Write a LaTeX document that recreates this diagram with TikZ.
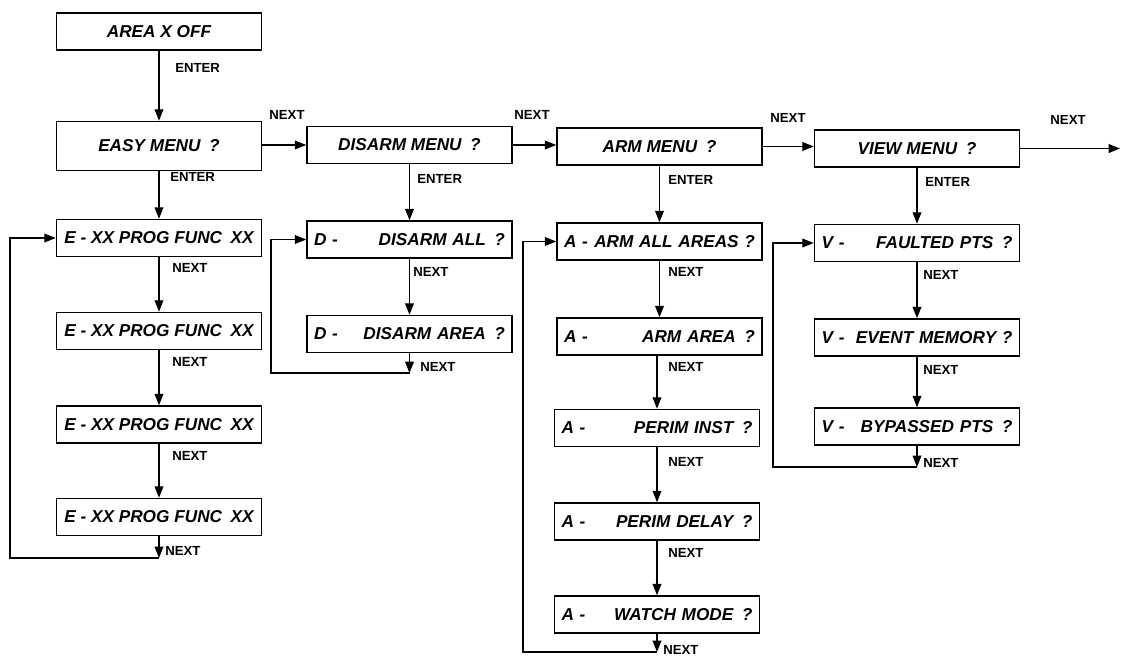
\documentclass[tikz,border=0pt]{standalone}
\usepackage{fontspec}
\setmainfont{Liberation Sans}
\usetikzlibrary{arrows.meta}

\newcommand{\subtxt}[2]{#1\hfill#2}

\begin{document}
\begin{tikzpicture}[x=0.02cm,y=-0.02cm,
  box/.style={draw,line width=0.9pt,minimum width=4.1cm,minimum height=0.74cm,inner xsep=4pt,
    font=\fontsize{9.8}{11}\selectfont\bfseries\itshape},
  subbox/.style={box,text width=3.82cm,align=left},
  lbl/.style={font=\fontsize{7.5}{9}\selectfont\bfseries,inner sep=0pt},
  arr/.style={line width=0.7pt,-{Triangle[length=6.5pt,width=5pt]}}]
\useasboundingbox (0,0) rectangle (1124,659);

% menu row
\node[box] (area) at (159,31.5) {AREA X OFF};
\node[box,minimum height=0.98cm] (easy) at (159,146) {EASY MENU\enspace ?};
\node[box] (disarm) at (409.5,145) {DISARM MENU\enspace ?};
\node[box] (arm) at (659.5,146.5) {ARM MENU\enspace ?};
\node[box] (view) at (917,148.5) {VIEW MENU\enspace ?};
\coordinate (vout) at (1120,148.5);

\draw[arr] (area) -- (easy);
\draw[arr] (disarm.west -| easy.east) -- (disarm.west);
\draw[arr] (disarm.east) -- (arm.west |- disarm.east);
\draw[arr] (arm.east) -- (view.west |- arm.east);
\draw[arr] (view.east) -- (vout);

\node[lbl,anchor=west] (l0) at (175,68) {ENTER};
\node[lbl] (n1) at (287,115) {NEXT};
\node[lbl] (n2) at (532,115) {NEXT};
\node[lbl] (n3) at (788,118) {NEXT};
\node[lbl] (n4) at (1068,120) {NEXT};

% easy column
\foreach \i/\y in {1/238,2/331,3/424.5,4/517}
  \node[box] (e\i) at (159,\y) {E - XX PROG FUNC\enspace XX};
\draw[arr] (easy) -- (e1);
\node[lbl,anchor=west] (le) at (170,177) {ENTER};
\foreach \i/\j/\y in {1/2/268,2/3/362,3/4/456} {
  \draw[arr] (e\i) -- (e\j);
  \node[lbl,anchor=west] (ne\i) at (172,\y) {NEXT};
}
\coordinate (eret) at (10,558);
\draw[arr] (e4.south) -- (e4.south |- eret);
\draw[arr] (e4.south |- eret) -- (eret) |- (e1.west);
\node[lbl,anchor=west] (ne4) at (165,551) {NEXT};

% disarm column
\node[subbox] (d1) at (409.5,239.5) {\subtxt{D -}{DISARM ALL\enspace ?}};
\node[subbox] (d2) at (409.5,334) {\subtxt{D -}{DISARM AREA\enspace ?}};
\draw[arr] (disarm) -- (d1);
\draw[arr] (d1) -- (d2);
\node[lbl,anchor=west] (ld) at (417,179) {ENTER};
\node[lbl,anchor=west] (nd1) at (413,272) {NEXT};
\coordinate (dret) at (271,373);
\draw[arr] (d2.south) -- (d2.south |- dret);
\draw[arr] (d2.south |- dret) -- (dret) |- (d1.west);
\node[lbl,anchor=west] (nd2) at (420,367) {NEXT};

% arm column
\node[subbox] (a1) at (659.5,241.5) {\subtxt{A -}{ARM ALL AREAS ?}};
\node[subbox] (a2) at (659.5,336.5) {\subtxt{A -}{ARM AREA\enspace ?}};
\node[subbox] (a3) at (657,428) {\subtxt{A -}{PERIM INST\enspace ?}};
\node[subbox] (a4) at (657,521.5) {\subtxt{A -}{PERIM DELAY\enspace ?}};
\node[subbox] (a5) at (657,614.5) {\subtxt{A -}{WATCH MODE\enspace ?}};
\draw[arr] (arm) -- (a1);
\node[lbl,anchor=west] (la) at (668,180) {ENTER};
\foreach \i/\j/\y in {1/2/272,2/3/367,3/4/462,4/5/553} {
  \draw[arr] (a\i.south -| a\j) -- (a\j);
  \node[lbl,anchor=west] (na\i) at (668,\y) {NEXT};
}
\coordinate (aret) at (523,652);
\draw[arr] (a5.south) -- (a5.south |- aret);
\draw[arr] (a5.south |- aret) -- (aret) |- (a1.west);
\node[lbl,anchor=west] (na5) at (663,650) {NEXT};

% view column
\node[subbox] (v1) at (917,243) {\subtxt{V -}{FAULTED PTS\enspace ?}};
\node[subbox] (v2) at (917,337.5) {\subtxt{V -}{EVENT MEMORY ?}};
\node[subbox] (v3) at (917,426.5) {\subtxt{V -}{BYPASSED PTS\enspace ?}};
\draw[arr] (view) -- (v1);
\node[lbl,anchor=west] (lv) at (925,182) {ENTER};
\foreach \i/\j/\y in {1/2/275,2/3/370} {
  \draw[arr] (v\i) -- (v\j);
  \node[lbl,anchor=west] (nv\i) at (923,\y) {NEXT};
}
\coordinate (vret) at (773,467);
\draw[arr] (v3.south) -- (v3.south |- vret);
\draw[arr] (v3.south |- vret) -- (vret) |- (v1.west);
\node[lbl,anchor=west] (nv3) at (923,463) {NEXT};
\end{tikzpicture}
\end{document}
